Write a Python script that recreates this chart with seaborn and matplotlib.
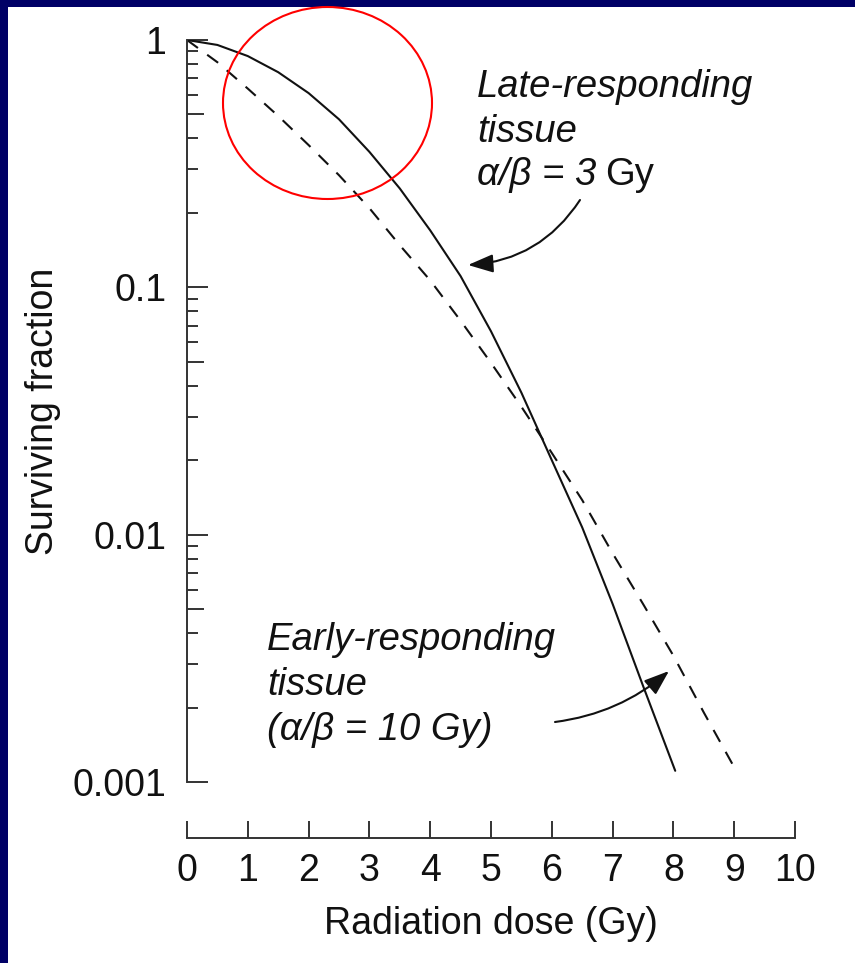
import matplotlib
matplotlib.use("Agg")
import matplotlib.pyplot as plt
import seaborn as sns
from matplotlib.patches import Ellipse, Rectangle
from matplotlib.ticker import (FixedLocator, FixedFormatter, LogLocator,
                               NullFormatter, NullLocator)

# ---------------- data ----------------
late_dose = [0, 0.5, 1.0, 1.5, 2.0, 2.5, 3.0, 3.5, 4.0, 4.5, 5.0, 5.5,
             6.0, 6.5, 7.0, 7.5, 8.03]
late_sf = [1.0, 0.955, 0.861, 0.741, 0.610, 0.478, 0.353, 0.251, 0.170,
           0.111, 0.0664, 0.0375, 0.0200, 0.0107, 0.00525, 0.00245,
           0.00111]

early_dose = [0, 0.5, 1.0, 1.5, 2.0, 2.5, 3.0, 3.5, 4.0, 4.5, 5.0, 5.5,
              6.0, 6.5, 7.0, 7.5, 8.0, 8.5, 9.05]
early_sf = [1.0, 0.813, 0.636, 0.493, 0.376, 0.284, 0.209, 0.148, 0.1067,
            0.0733, 0.0495, 0.0329, 0.0214, 0.0138, 0.00841, 0.00525,
            0.00324, 0.00191, 0.00109]

x_ticks = [0, 1, 2, 3, 4, 5, 6, 7, 8, 9, 10]
y_ticks = [0.001, 0.01, 0.1, 1]
y_tick_labels = ["0.001", "0.01", "0.1", "1"]
y_five_ticks = [0.005, 0.05, 0.5]

x_label = "Radiation dose (Gy)"
y_label = "Surviving fraction"

# ---------------- figure ----------------
sns.set_theme(style="ticks")
plt.rcParams["font.family"] = ["Liberation Sans", "DejaVu Sans"]

W, H = 855, 963
fig = plt.figure(figsize=(W / 100, H / 100), dpi=100)
fig.patch.set_facecolor("#000066")


def fx(px):
    return px / W


def fy(py):
    return 1 - py / H


fig.add_artist(Rectangle((fx(8), 0), (W - 8) / W, (H - 7) / H,
                         transform=fig.transFigure, facecolor="white",
                         edgecolor="none", zorder=-10))

ax = fig.add_axes([fx(187), fy(782), (795 - 187) / W, (782 - 40) / H])
ax.set_facecolor("none")

LINE = "#111111"
AX = "#333333"

sns.lineplot(x=late_dose, y=late_sf, ax=ax, color=LINE, linewidth=1.5,
             sort=False)
sns.lineplot(x=early_dose, y=early_sf, ax=ax, color=LINE, linewidth=1.5,
             sort=False)
ax.lines[-1].set_linestyle((0, (6.5, 5.5)))
for ln in ax.lines:
    ln.set_solid_joinstyle("round")
    ln.set_dash_joinstyle("round")

ax.set_yscale("log")
ax.set_xlim(0, 10)
ax.set_ylim(0.001, 1)

ax.yaxis.set_major_locator(FixedLocator(y_ticks))
ax.yaxis.set_major_formatter(FixedFormatter(y_tick_labels))
ax.yaxis.set_minor_locator(LogLocator(base=10, subs=(2, 3, 4, 6, 7, 8, 9),
                                      numticks=30))
ax.yaxis.set_minor_formatter(NullFormatter())
ax.set_xticks(x_ticks)
ax.set_xticklabels([str(t) for t in x_ticks])

ax.tick_params(axis="y", which="major", direction="in", length=15,
               width=1.4, color=AX, pad=15, labelsize=27, labelcolor="#111111")
ax.tick_params(axis="y", which="minor", direction="in", length=8,
               width=1.4, color=AX)
ax.tick_params(axis="x", which="major", direction="in", length=12,
               width=1.4, color=AX, pad=11, labelsize=27, labelcolor="#111111")
ax.tick_params(axis="x", which="minor", bottom=False)

for s in ["top", "right"]:
    ax.spines[s].set_visible(False)
ax.spines["bottom"].set_position(("outward", 40.3))
ax.spines["left"].set_bounds(0.001, 1)
ax.spines["bottom"].set_bounds(0, 10)
for s in ["left", "bottom"]:
    ax.spines[s].set_linewidth(1.4)
    ax.spines[s].set_color(AX)

# medium-length ticks at the 5s
ax5 = ax.twinx()
ax5.set_yscale("log")
ax5.set_ylim(0.001, 1)
ax5.yaxis.set_ticks_position("left")
ax5.yaxis.set_major_locator(FixedLocator(y_five_ticks))
ax5.yaxis.set_major_formatter(NullFormatter())
ax5.yaxis.set_minor_locator(NullLocator())
ax5.tick_params(axis="y", direction="in", length=12, width=1.4, color=AX,
                labelleft=False, labelright=False)
for s in ax5.spines.values():
    s.set_visible(False)
ax5.set_facecolor("none")

ax.set_xlabel(x_label, fontsize=27, labelpad=12, color="#111111")
ax.set_ylabel(y_label, fontsize=27, labelpad=8, color="#111111")

# ---------------- annotations ----------------
TXT = dict(fontsize=27.5, color="#111111", va="baseline", ha="left")
fig.text(fx(477), fy(97), "Late-responding", style="italic", **TXT)
fig.text(fx(477), fy(142), "tissue", style="italic", **TXT)
fig.text(fx(477), fy(185), "α/β = 3", style="italic", **TXT)
fig.text(fx(605), fy(185), "Gy", **TXT)

fig.text(fx(267), fy(650), "Early-responding", style="italic", **TXT)
fig.text(fx(267), fy(695), "tissue", style="italic", **TXT)
fig.text(fx(267), fy(740), "(α/β = 10 Gy)", style="italic", **TXT)

arrow = dict(arrowstyle="-|>,head_length=0.55,head_width=0.2",
             color=LINE, lw=1.5, mutation_scale=28, shrinkA=0, shrinkB=0)
ax.annotate("", xy=(468, H - 265), xycoords="figure pixels",
            xytext=(580, H - 200), textcoords="figure pixels",
            arrowprops=dict(connectionstyle="arc3,rad=-0.25", **arrow))
ax.annotate("", xy=(669, H - 671), xycoords="figure pixels",
            xytext=(555, H - 722), textcoords="figure pixels",
            arrowprops=dict(connectionstyle="arc3,rad=0.15", **arrow))

fig.add_artist(Ellipse((fx(327.5), fy(103)), 209 / W, 192 / H,
                       transform=fig.transFigure, fill=False,
                       edgecolor="#ff0000", lw=1.5, zorder=20))

fig.savefig("out.png", dpi=100, facecolor=fig.get_facecolor())
